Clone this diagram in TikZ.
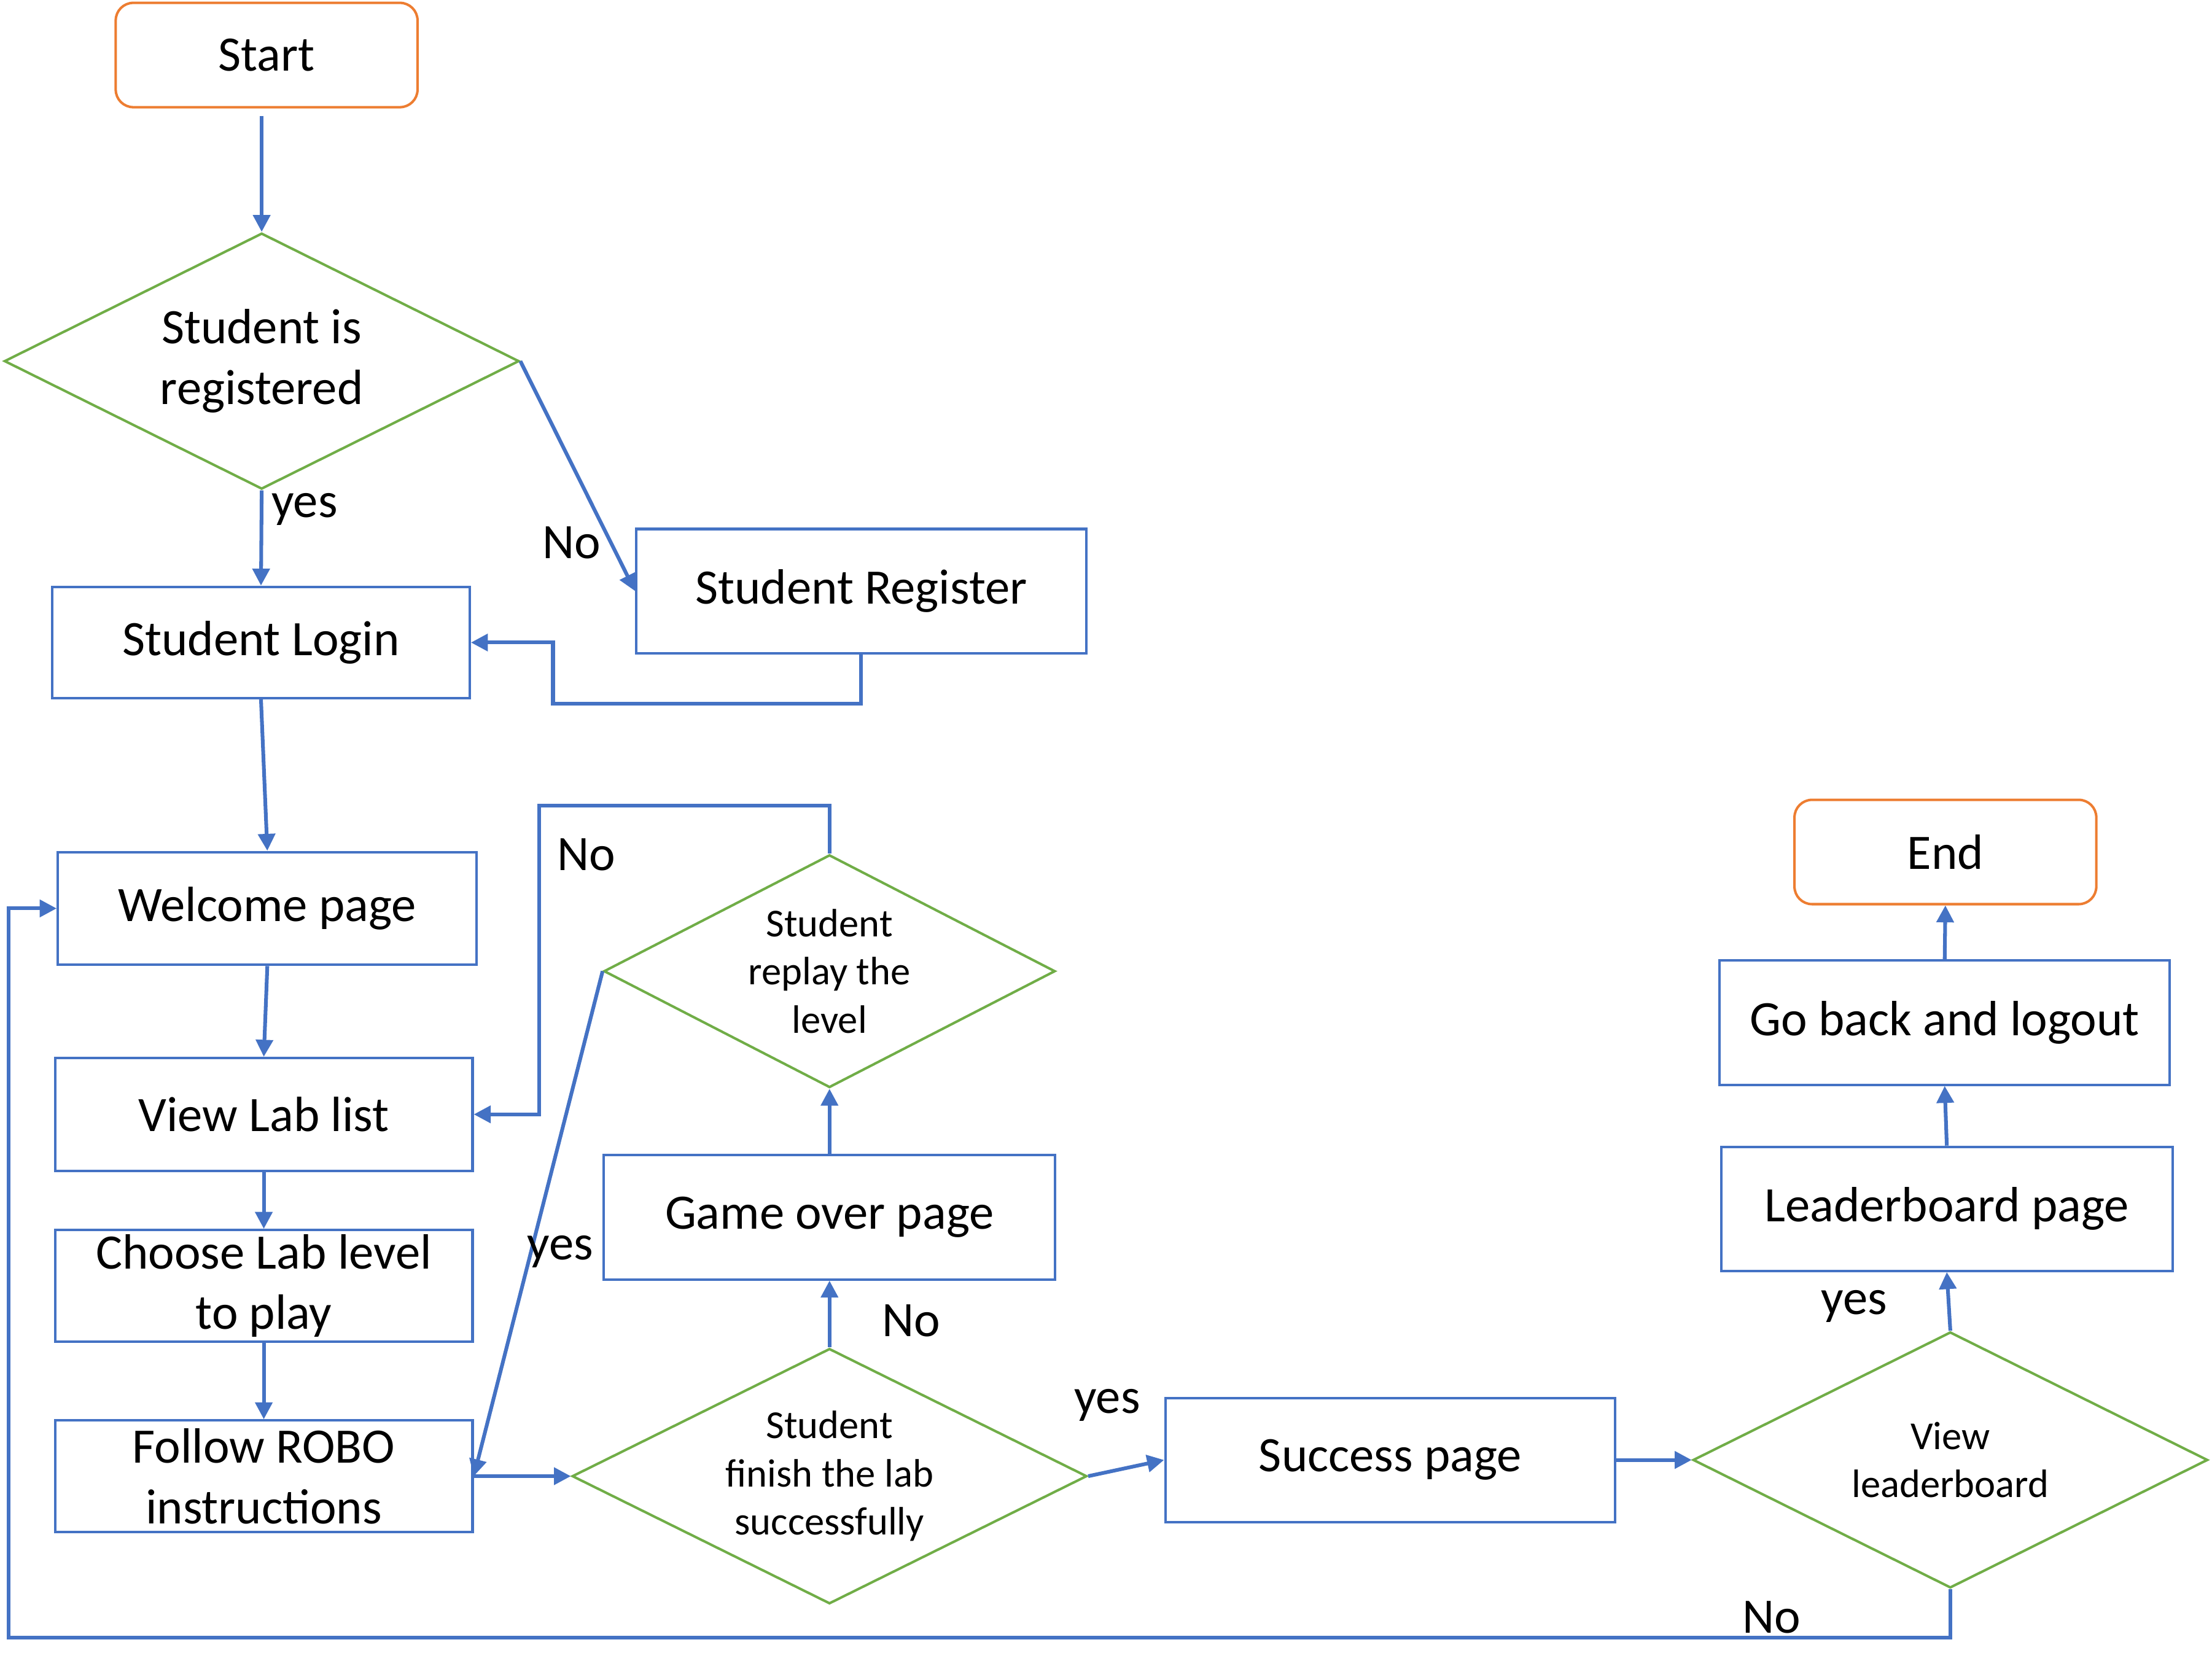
\documentclass[tikz,border=0pt]{standalone}
\usepackage{fontspec}
\setmainfont{Carlito}
\usetikzlibrary{shapes.geometric,arrows.meta}
\definecolor{flowblue}{RGB}{68,114,196}
\definecolor{flowgreen}{RGB}{112,173,71}
\definecolor{floworange}{RGB}{237,125,49}

\begin{document}
\begin{tikzpicture}[x=0.02cm,y=-0.02cm,>={Triangle[length=2.4mm,width=2.4mm]},
	box/.style={draw=flowblue,line width=1pt,minimum width=5.92cm,minimum height=1.6cm,inner sep=0pt,align=center,font=\fontsize{20}{24.5}\selectfont},
	widebox/.style={box,minimum width=6.38cm,minimum height=1.76cm},
	term/.style={draw=floworange,line width=1pt,rounded corners=0.25cm,minimum width=4.28cm,minimum height=1.48cm,font=\fontsize{20}{24}\selectfont},
	decision/.style={diamond,draw=flowgreen,line width=1pt,aspect=2,inner sep=0pt,align=center,minimum width=7.3cm,minimum height=3.63cm,font=\fontsize{16}{19.5}\selectfont},
	flow/.style={->,color=flowblue,line width=1.5pt},
	lbl/.style={text=black,font=\fontsize{20}{24}\selectfont}]
	\useasboundingbox (0,0) rectangle (1568,1191);
	\node[term] (start) at (189,39) {Start};
	\node[decision,font=\fontsize{20}{24.5}\selectfont] (registered) at (185.5,256) {Student is\\registered};
	\node[box,minimum height=1.58cm] (login) at (185,455.5) {Student Login};
	\node[widebox] (register) at (610.5,419) {Student Register};
	\node[box,minimum width=5.94cm] (welcome) at (189.5,644) {Welcome page};
	\node[box] (lablist) at (187,790) {View Lab list};
	\node[box,minimum height=1.58cm] (choose) at (187,911.5) {Choose Lab level\\to play};
	\node[box,minimum height=1.58cm] (follow) at (187,1046.5) {Follow ROBO\\instructions};
	\node[decision,minimum height=3.62cm] (finish) at (588,1046.5) {Student\\finish the lab\\successfully};
	\node[widebox,minimum width=6.4cm] (gameover) at (588,863) {Game over page};
	\node[decision,minimum width=6.4cm,minimum height=3.3cm] (replay) at (588,688.5) {Student\\replay the\\level};
	\node[widebox] (success) at (985.5,1035) {Success page};
	\node[decision] (viewlb) at (1382.5,1035) {View\\leaderboard};
	\node[widebox,minimum width=6.4cm] (leader) at (1380,857) {Leaderboard page};
	\node[widebox] (logout) at (1378.5,725) {Go back and logout};
	\node[term] (stop) at (1379,604) {End};

	\draw[flow,shorten <=3pt] (registered.north |- start.south) -- (registered.north);
	\draw[flow] (registered.south) -- node[lbl,pos=0.2,right]{yes} (login.north);
	\draw[flow] (registered.east) -- node[lbl,pos=0.79,left]{No} (register.west);
	\draw[flow] (register.south) |- (392,499) |- (login.east);
	\draw[flow] (login.south) -- (welcome.north);
	\draw[flow] (welcome.south) -- (lablist.north);
	\draw[flow] (lablist.south) -- (choose.north);
	\draw[flow] (choose.south) -- (follow.north);
	\draw[flow] (follow.east) -- (finish.west);
	\draw[flow] (finish.north) -- node[lbl,pos=0.4,right=0.6cm]{No} (gameover.south);
	\draw[flow] (gameover.north) -- (replay.south);
	\draw[flow] (replay.north) |- (382,571) |- node[lbl,pos=0.08,right=0.12cm]{No} (lablist.east);
	\draw[flow] (replay.west) -- node[lbl,pos=0.555,right,inner sep=0pt,xshift=-0.08cm]{yes} (follow.east);
	\draw[flow] (finish.east) -- node[lbl,pos=0.25,above=0.58cm]{yes} (success.west);
	\draw[flow] (success.east) -- (viewlb.west);
	\draw[flow] (viewlb.north) -- node[lbl,pos=0.42,left=0.73cm]{yes} (leader.south);
	\draw[flow] (leader.north) -- (logout.south);
	\draw[flow] (logout.north) -- (stop.south);
	\draw[flow] (viewlb.south) |- node[lbl,pos=0.546,above,inner sep=1pt]{No} (6,1161) |- (welcome.west);
\end{tikzpicture}
\end{document}
